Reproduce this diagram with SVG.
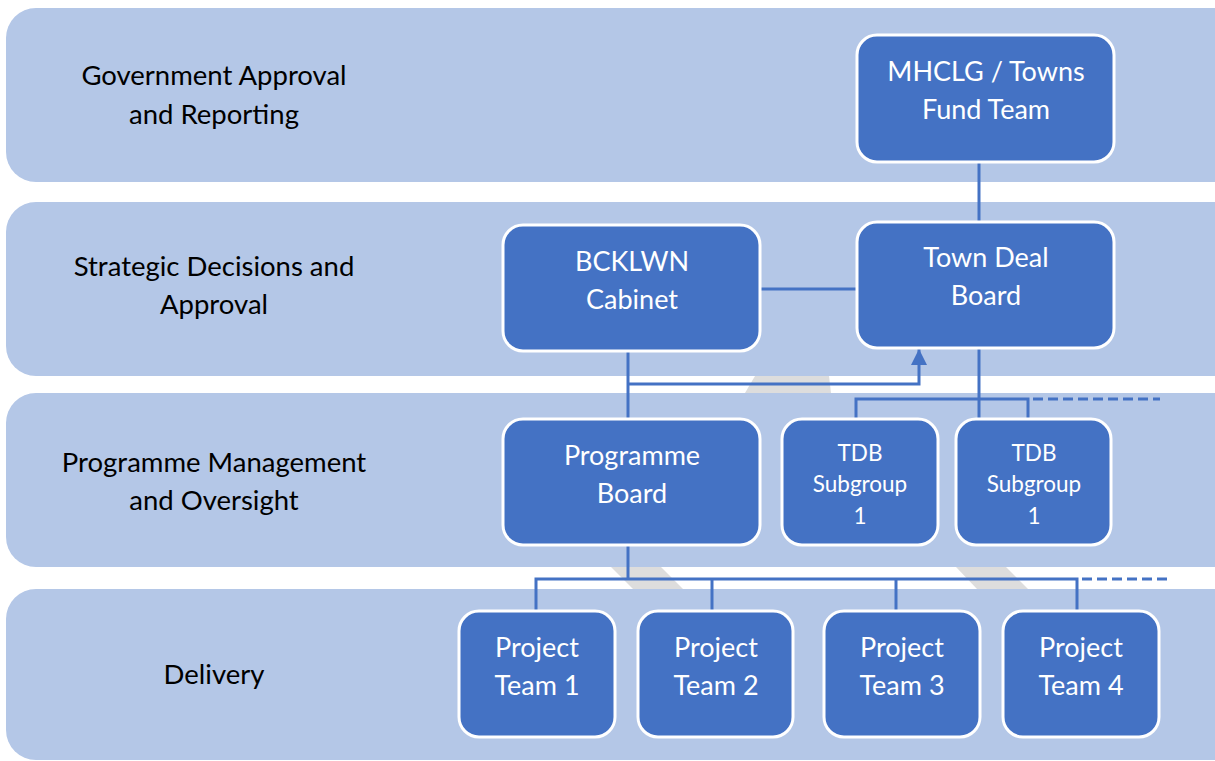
<svg xmlns="http://www.w3.org/2000/svg" width="1215" height="761" viewBox="0 0 1215 761">
<style>
.band{fill:#B4C7E7}
.stripe{fill:#DDDDDD}
.node rect{fill:#4472C4;stroke:#FFFFFF;stroke-width:3}
.node text{fill:#FFFFFF;font-family:Lato,"Open Sans","Liberation Sans",sans-serif;font-size:27px;text-anchor:middle}
.node text.sm{font-size:22.5px}
.lbl{fill:#000000;font-family:Lato,"Open Sans","Liberation Sans",sans-serif;font-size:27.5px;text-anchor:middle}
.ln{fill:none;stroke:#4472C4;stroke-width:3}
.dash{fill:none;stroke:#4472C4;stroke-width:3;stroke-dasharray:10 5}
</style>
<defs>
<marker id="arr" markerWidth="16" markerHeight="16" refX="16" refY="8" orient="auto" markerUnits="userSpaceOnUse" viewBox="0 0 16 16">
<path d="M0,0 L16,8 L0,16 Z" fill="#4472C4"/>
</marker>
</defs>
<rect width="1215" height="761" fill="#FFFFFF"/>
<g id="bands">
<rect class="band" x="6" y="8" width="1240" height="174" rx="30"/>
<rect class="band" x="6" y="202" width="1240" height="174" rx="30"/>
<rect class="band" x="6" y="393" width="1240" height="174" rx="30"/>
<rect class="band" x="6" y="589" width="1240" height="171" rx="30"/>
</g>
<g id="stripes">
<polygon class="stripe" points="755,376 829,376 831,393 745,393"/>
<polygon class="stripe" points="611,567 661,567 683,589 633,589"/>
<polygon class="stripe" points="956,567 1006,567 1028,589 977,589"/>
</g>
<g id="labels">
<text class="lbl" x="214" y="85">Government Approval</text>
<text class="lbl" x="214" y="124">and Reporting</text>
<text class="lbl" x="214" y="276">Strategic Decisions and</text>
<text class="lbl" x="214" y="314">Approval</text>
<text class="lbl" x="214" y="472">Programme Management</text>
<text class="lbl" x="214" y="510">and Oversight</text>
<text class="lbl" x="214" y="684">Delivery</text>
</g>
<g id="connectors">
<line class="ln" x1="979" y1="162" x2="979" y2="222"/>
<line class="ln" x1="760" y1="289" x2="857" y2="289"/>
<line class="ln" x1="628" y1="351" x2="628" y2="419"/>
<polyline class="ln" points="628,384 919,384 919,349" marker-end="url(#arr)"/>
<line class="ln" x1="979" y1="348" x2="979" y2="419"/>
<polyline class="ln" points="856,419 856,399 1028,399 1028,419"/>
<line class="dash" x1="1033" y1="399" x2="1160" y2="399"/>
<line class="ln" x1="628" y1="545" x2="628" y2="579"/>
<polyline class="ln" points="536,611 536,579 1077,579 1077,611"/>
<line class="ln" x1="712" y1="579" x2="712" y2="611"/>
<line class="ln" x1="896" y1="579" x2="896" y2="611"/>
<line class="dash" x1="1082" y1="579" x2="1172" y2="579"/>
</g>
<g id="mhclg" class="node">
<rect x="857" y="35" width="257" height="127" rx="20"/>
<text x="986" y="81">MHCLG / Towns</text>
<text x="986" y="119">Fund Team</text>
</g>
<g id="bcklwn" class="node">
<rect x="503" y="225" width="257" height="126" rx="20"/>
<text x="632" y="271">BCKLWN</text>
<text x="632" y="309">Cabinet</text>
</g>
<g id="tdb" class="node">
<rect x="857" y="222" width="257" height="126" rx="20"/>
<text x="986" y="267">Town Deal</text>
<text x="986" y="305">Board</text>
</g>
<g id="progboard" class="node">
<rect x="503" y="419" width="257" height="126" rx="20"/>
<text x="632" y="465">Programme</text>
<text x="632" y="503">Board</text>
</g>
<g id="sub1" class="node">
<rect x="782" y="419" width="156" height="126" rx="20"/>
<text class="sm" x="860" y="461">TDB</text>
<text class="sm" x="860" y="492">Subgroup</text>
<text class="sm" x="860" y="524">1</text>
</g>
<g id="sub2" class="node">
<rect x="956" y="419" width="155" height="126" rx="20"/>
<text class="sm" x="1034" y="461">TDB</text>
<text class="sm" x="1034" y="492">Subgroup</text>
<text class="sm" x="1034" y="524">1</text>
</g>
<g id="pt1" class="node">
<rect x="459" y="611" width="156" height="126" rx="20"/>
<text x="537" y="657">Project</text>
<text x="537" y="695">Team 1</text>
</g>
<g id="pt2" class="node">
<rect x="638" y="611" width="155" height="126" rx="20"/>
<text x="716" y="657">Project</text>
<text x="716" y="695">Team 2</text>
</g>
<g id="pt3" class="node">
<rect x="824" y="611" width="156" height="126" rx="20"/>
<text x="902" y="657">Project</text>
<text x="902" y="695">Team 3</text>
</g>
<g id="pt4" class="node">
<rect x="1003" y="611" width="156" height="126" rx="20"/>
<text x="1081" y="657">Project</text>
<text x="1081" y="695">Team 4</text>
</g>
</svg>
